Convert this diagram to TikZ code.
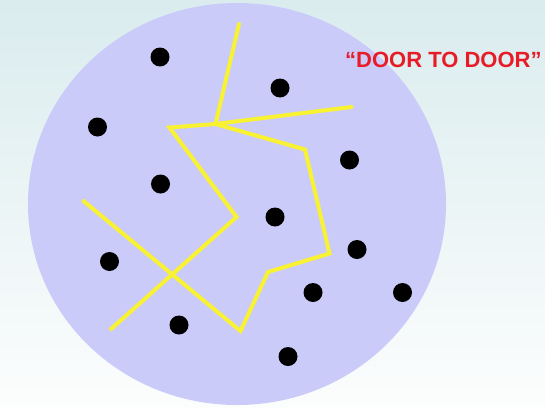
\documentclass[tikz,border=0pt]{standalone}
\usepackage{fontspec}
\setmainfont{Liberation Sans}
\definecolor{bgtop}{RGB}{218,236,238}
\definecolor{bgbot}{RGB}{252,253,253}
\definecolor{disc}{RGB}{203,203,250}
\definecolor{wire}{RGB}{248,242,50}
\definecolor{lbl}{RGB}{232,28,40}
\begin{document}
\begin{tikzpicture}[x=1pt,y=-1pt,
  house/.style={circle,fill=black,inner sep=0pt,minimum size=19pt},
  route/.style={draw=wire,line width=4pt,line join=miter,line cap=round}]
\useasboundingbox (0,0) rectangle (545,407);
\shade[top color=bgtop,bottom color=bgbot] (0,0) rectangle (545,407);
\fill[disc] (237,204) ellipse [x radius=209,y radius=201];
% houses
\node[house] (h1) at (160,57) {};
\node[house] (h2) at (280,88) {};
\node[house] (h3) at (97.5,127) {};
\node[house] (h4) at (349.5,160) {};
\node[house] (h5) at (160.5,184) {};
\node[house] (h6) at (275,217) {};
\node[house] (h7) at (109.5,261.5) {};
\node[house] (h8) at (357,249.5) {};
\node[house] (h9) at (313,292.5) {};
\node[house] (h10) at (402.5,292.5) {};
\node[house] (h11) at (179,325) {};
\node[house] (h12) at (288,356.5) {};
% route points
\coordinate (top) at (239,24);
\coordinate (j) at (215.5,124);
\coordinate (re) at (351.5,107);
\coordinate (lc) at (169.5,127.5);
\coordinate (mid) at (236.5,217);
\coordinate (lle) at (111,329);
\coordinate (rc1) at (305,149.5);
\coordinate (rc2) at (329.5,253.5);
\coordinate (rc3) at (268,272);
\coordinate (bot) at (240.5,331);
\coordinate (le) at (83.5,201);
\draw[route] (top) -- (j);
\draw[route] (re) -- (j) -- (lc) -- (mid) -- (lle);
\draw[route] (j) -- (rc1) -- (rc2) -- (rc3) -- (bot) -- (le);
\node[anchor=base west,inner sep=0pt,text=lbl,font=\bfseries\fontsize{22}{26}\selectfont] (title) at (345,67.3) {“DOOR TO DOOR”};
\end{tikzpicture}
\end{document}
